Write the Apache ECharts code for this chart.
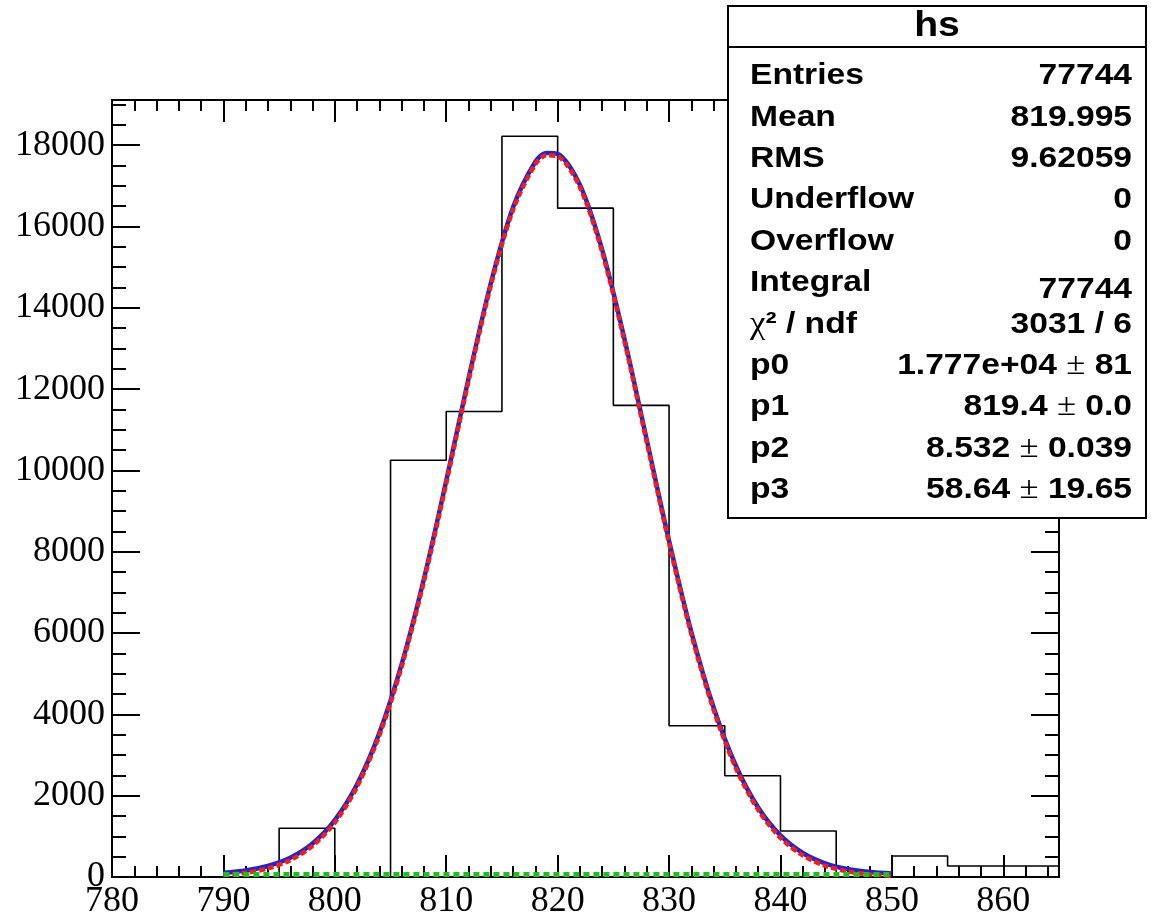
<!DOCTYPE html>
<html>
<head>
<meta charset="utf-8">
<script src="https://cdn.jsdelivr.net/npm/echarts@6/dist/echarts.min.js"></script>
<style>
html,body{margin:0;padding:0;background:#fff;}
#chart{width:1152px;height:920px;}
</style>
</head>
<body>
<div id="chart"></div>
<script>
// ---- histogram (bin edges and contents) ----
const binEdges = [780,785,790,795,800,805,810,815,820,825,830,835,840,845,850,855,860,865];
const binCounts = [0,0,0,1200,0,10250,11450,18220,16450,11600,3720,2490,1130,0,515,270,270];

// ---- fit curves ----
const fitX = [790,792,794,796,798,800,802,804,806,808,810,812,814,816,818,819,820,822,824,826,828,830,832,834,836,838,840,842,844,846,848,850];
const fitTotal = [105.5,161.0,270.0,472.2,823.8,1398.4,2279.3,3544.6,5235.4,7337.0,9744.0,12258,14604,16473,17591,17809,17785,17023,15425,13234,10751,8272,6030,4168,2736,1709,1022,591,337,196,123,87];
const fitGauss = [46.9,102.4,211.4,413.6,765.2,1339.8,2220.7,3486.0,5176.8,7278.4,9685.4,12199,14545,16414,17532,17750,17726,16964,15366,13175,10692,8213.5,5971.8,4109.8,2677.4,1650.8,963.5,532.3,278.3,137.8,64.5,28.6];
const bgX = [790,850];
const bgY = [58.64,58.64];

// ---- axes ----
const xMin = 780, xMax = 865, xMajor = 10, xMinor = 2;
const yMin = 0, yMax = 19110, yMajor = 2000, yMinor = 500;

// ---- stats box texts ----
const statTitle = 'hs';
const statLabels = ['Entries','Mean','RMS','Underflow','Overflow','Integral','{chi|χ}² / ndf','p0','p1','p2','p3'];
const statValues = ['77744','819.995','9.62059','0','0','77744','3031 / 6','1.777e+04 {pm|±} 81','819.4 {pm|±} 0.0','8.532 {pm|±} 0.039','58.64 {pm|±} 19.65'];

// build histogram outline points
const histLine = [];
for (let i = 0; i < binCounts.length; i++) {
  histLine.push([binEdges[i], binCounts[i]]);
  histLine.push([binEdges[i+1], binCounts[i]]);
}
const totalLine = fitX.map((x,i)=>[x, fitTotal[i]]);
const gaussLine = fitX.map((x,i)=>[x, fitGauss[i]]);
const bgLine = bgX.map((x,i)=>[x, bgY[i]]);

const black = '#000';
const plain = v => String(v);
function xAxisDef(pos, interval, len, labels) {
  return {
    type:'value', min:xMin, max:xMax, interval:interval, position:pos,
    splitLine:{show:false},
    axisLine:{show:true, onZero:false, lineStyle:{color:black, width:2}},
    axisTick:{show:true, inside:true, length:len, lineStyle:{color:black, width:2}},
    axisLabel: labels ? {show:true, showMaxLabel:false, formatter:plain, fontFamily:'Liberation Serif', fontSize:36, color:black, margin:7} : {show:false}
  };
}
function yAxisDef(pos, interval, len, labels) {
  return {
    type:'value', min:yMin, max:yMax, interval:interval, position:pos,
    splitLine:{show:false},
    axisLine:{show:true, onZero:false, lineStyle:{color:black, width:2}},
    axisTick:{show:true, inside:true, length:len, lineStyle:{color:black, width:2}},
    axisLabel: labels ? {show:true, showMaxLabel:false, formatter:plain, fontFamily:'Liberation Serif', fontSize:36, color:black, margin:7} : {show:false}
  };
}

// stats box graphics
const boxX = 728, boxY = 6, boxW = 418, boxH = 512, headH = 41;
const rowY0 = 76, rowStep = 41.4, sx = 1.12;
const g = [];
g.push({type:'rect', z:100, shape:{x:boxX, y:boxY, width:boxW, height:boxH}, style:{fill:'#fff', stroke:black, lineWidth:2}});
g.push({type:'line', z:101, shape:{x1:boxX, y1:boxY+headH, x2:boxX+boxW, y2:boxY+headH}, style:{stroke:black, lineWidth:2}});
g.push({type:'text', z:101, x:boxX+boxW/2, y:boxY+headH/2, scaleX:sx, style:{text:statTitle, fill:black, fontFamily:'Liberation Sans', fontWeight:'bold', fontSize:35, align:'center', verticalAlign:'middle'}});
const richStyles = {
  chi:{fontFamily:'Liberation Serif', fontWeight:'normal', fontSize:31, fill:black},
  pm:{fontFamily:'Liberation Serif', fontWeight:'normal', fontSize:31, fill:black}
};
for (let i = 0; i < statLabels.length; i++) {
  const y = rowY0 + i*rowStep;
  g.push({type:'text', z:101, x:boxX+22, y:y, scaleX:sx, style:{text:statLabels[i], fill:black, fontFamily:'Liberation Sans', fontWeight:'bold', fontSize:30, align:'left', verticalAlign:'middle', rich:richStyles}});
  g.push({type:'text', z:101, x:boxX+boxW-14, y:y + (i===5?7:0), scaleX:sx, style:{text:statValues[i], fill:black, fontFamily:'Liberation Sans', fontWeight:'bold', fontSize:30, align:'right', verticalAlign:'middle', rich:richStyles}});
}

const chart = echarts.init(document.getElementById('chart'), null, {renderer:'canvas'});
chart.setOption({
  animation:false,
  backgroundColor:'#fff',
  grid:{left:112, right:93, top:100, bottom:40},
  xAxis:[
    xAxisDef('bottom', xMajor, 22, true),
    xAxisDef('bottom', xMinor, 11, false),
    xAxisDef('top', xMajor, 22, false),
    xAxisDef('top', xMinor, 11, false)
  ],
  yAxis:[
    yAxisDef('left', yMajor, 28, true),
    yAxisDef('left', yMinor, 14, false),
    yAxisDef('right', yMajor, 28, false),
    yAxisDef('right', yMinor, 14, false)
  ],
  series:[
    {type:'line', name:'hs', data:histLine, symbol:'none', z:2,
     lineStyle:{color:black, width:1.6}},
    {type:'line', name:'fit', data:totalLine, symbol:'none', smooth:0.3, z:3,
     lineStyle:{color:'#2323c8', width:4.5}},
    {type:'line', name:'gaus', data:gaussLine, symbol:'none', smooth:0.3, z:4,
     lineStyle:{color:'#f01e1e', width:4.5, type:[6,3]}},
    {type:'line', name:'bkg', data:bgLine, symbol:'none', z:5,
     lineStyle:{color:'#1fbf1f', width:5, type:[6,4]}}
  ],
  graphic:{elements:g}
});
</script>
</body>
</html>
